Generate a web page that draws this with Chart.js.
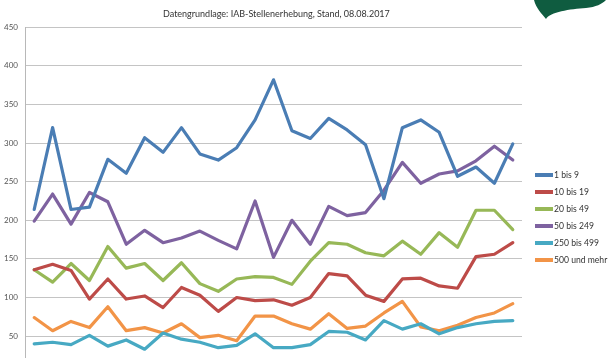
<!DOCTYPE html>
<html>
<head>
<meta charset="utf-8">
<script src="https://cdn.jsdelivr.net/npm/chart.js@4.4.1/dist/chart.umd.min.js"></script>
<style>
  html, body { margin:0; padding:0; background:#fff; }
  #wrap { position:relative; width:610px; height:358px; overflow:hidden; background:#fff; }
  #c { position:absolute; left:0; top:0; }
  #title { position:absolute; top:8px; left:163px; font-family:Lato, "Liberation Sans", sans-serif; font-size:9px; color:#333; white-space:nowrap; }
  #legend { position:absolute; left:535px; top:166px; font-family:Lato, "Liberation Sans", sans-serif; font-size:8.6px; color:#333; }
  .li { height:17.1px; display:flex; align-items:center; white-space:nowrap; }
  .sw { width:18px; height:4px; margin-right:1px; }
  #logo { position:absolute; left:530px; top:0; }
</style>
</head>
<body>
<div id="wrap">
  <canvas id="c" width="610" height="400"></canvas>
  <div id="title">Datengrundlage: IAB-Stellenerhebung, Stand, 08.08.2017</div>
  <div id="legend"></div>
  <svg id="logo" width="80" height="30" viewBox="0 0 80 30">
    <path d="M4,0 C6,8 12,14 16,19 C20,12 40,9 56,8 C66,7 72,4 76,0 Z" fill="#0f5c40"/>
  </svg>
</div>
<script>
const categories = Array.from({length: 27}, (_, i) => String(i + 1));
const seriesNames = ["1 bis 9", "10 bis 19", "20 bis 49", "50 bis 249", "250 bis 499", "500 und mehr"];
const s1bis9     = [214, 320, 214, 217, 279, 261, 307, 288, 320, 286, 278, 294, 330, 382, 316, 306, 332, 317, 298, 228, 320, 330, 314, 257, 269, 248, 299];
const s10bis19   = [136, 143, 135, 98, 124, 98, 102, 87, 113, 103, 82, 100, 96, 97, 90, 100, 131, 128, 103, 95, 124, 125, 115, 112, 153, 156, 171];
const s20bis49   = [136, 120, 144, 122, 166, 138, 144, 122, 145, 118, 108, 124, 127, 126, 117, 147, 171, 169, 158, 154, 173, 156, 184, 165, 213, 213, 188];
const s50bis249  = [199, 234, 195, 236, 224, 169, 187, 171, 177, 186, 174, 163, 225, 152, 200, 169, 218, 206, 210, 239, 275, 248, 260, 264, 277, 296, 278];
const s250bis499 = [40, 42, 39, 51, 37, 45, 33, 54, 46, 42, 35, 38, 53, 35, 35, 39, 56, 55, 45, 70, 59, 66, 53, 61, 66, 69, 70];
const s500mehr   = [74, 57, 69, 61, 88, 57, 61, 54, 66, 48, 51, 44, 76, 76, 66, 59, 79, 60, 63, 80, 95, 62, 57, 64, 74, 80, 92];
const yTicks = [0, 50, 100, 150, 200, 250, 300, 350, 400, 450];

const colors = ["#4a7db4", "#bd4b48", "#97b857", "#7e62a0", "#47a9c3", "#f29447"];
const values = [s1bis9, s10bis19, s20bis49, s50bis249, s250bis499, s500mehr];

const datasets = seriesNames.map((n, i) => ({
  label: n,
  data: values[i],
  borderColor: colors[i],
  backgroundColor: colors[i],
  borderWidth: 3.2,
  pointRadius: 0,
  tension: 0,
  fill: false,
  borderJoinStyle: 'round',
  borderCapStyle: 'round'
}));

const chart = new Chart(document.getElementById('c'), {
  type: 'line',
  data: { labels: categories, datasets: datasets },
  options: {
    responsive: false,
    animation: false,
    layout: { padding: { left: 0, right: 88, top: 27.3, bottom: 25.3 } },
    plugins: { legend: { display: false }, title: { display: false }, tooltip: { enabled: false } },
    scales: {
      x: { display: false, offset: true },
      y: {
        min: 0, max: 450,
        afterBuildTicks: s => { s.ticks = yTicks.map(v => ({ value: v })); },
        afterFit: s => { s.width = 25; },
        grid: { color: '#c4c4c4', lineWidth: 1, drawTicks: false },
        border: { color: '#b8b8b8', width: 1 },
        ticks: { padding: 7, color: '#555', font: { family: 'Lato, "Liberation Sans", sans-serif', size: 8 } }
      }
    }
  }
});

const lg = document.getElementById('legend');
seriesNames.forEach((n, i) => {
  const row = document.createElement('div');
  row.className = 'li';
  const sw = document.createElement('div');
  sw.className = 'sw';
  sw.style.background = colors[i];
  const t = document.createElement('span');
  t.textContent = n;
  row.appendChild(sw); row.appendChild(t);
  lg.appendChild(row);
});
</script>
</body>
</html>
